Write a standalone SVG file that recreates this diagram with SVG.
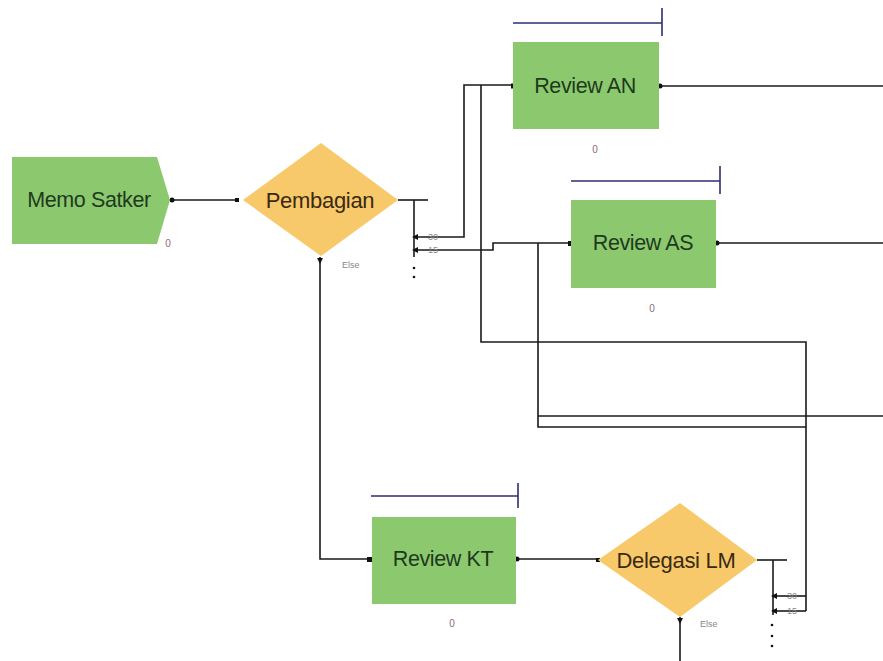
<svg xmlns="http://www.w3.org/2000/svg" width="883" height="661" viewBox="0 0 883 661">
<style>
.box{fill:#8cc96e}
.dia{fill:#f7c96b}
.lbl{font-family:"Liberation Sans",Arial,sans-serif;font-size:21.5px;letter-spacing:-0.4px;fill:#1e3a1e;text-anchor:middle;dominant-baseline:central}
.dlbl{font-family:"Liberation Sans",Arial,sans-serif;font-size:22px;letter-spacing:-0.3px;fill:#3a2a12;text-anchor:middle;dominant-baseline:central}
.zero{font-family:"Liberation Sans",Arial,sans-serif;font-size:10px;fill:#8a6a80;text-anchor:middle}
.small{font-family:"Liberation Sans",Arial,sans-serif;font-size:9px;fill:#888;}
.bar{stroke:#2c2f6e;stroke-width:1.6;fill:none}
.c{stroke:#1a1a1a;stroke-width:1.6;fill:none}
.dot{fill:#111}
</style>
<rect width="883" height="661" fill="#fff"/>

<g id="connectors">
<path class="c" d="M172,200 H237"/>
<path class="c" d="M398,200 H428"/>
<path class="c" d="M414,200 V257"/>
<path class="c" d="M416,237 H464 V85 H513"/>
<path class="c" d="M481,85 V342 H806 V611"/>
<path class="c" d="M416,250 H493 V243 H571"/>
<path class="c" d="M538,243 V427 H806"/>
<path class="c" d="M538,416 H883"/>
<path class="c" d="M659,86 H883"/>
<path class="c" d="M716,243 H883"/>
<path class="c" d="M320,257 V559 H370"/>
<path class="c" d="M516,559 H598"/>
<path class="c" d="M757,560 H787"/>
<path class="c" d="M773,560 V615"/>
<path class="c" d="M775,596 H806"/>
<path class="c" d="M775,611 H806"/>
<path class="c" d="M680,617 V661"/>
<path d="M412,237 L418,234 L418,240 z" class="dot"/>
<path d="M412,250 L418,247 L418,253 z" class="dot"/>
<path d="M771,596 L777,593 L777,599 z" class="dot"/>
<path d="M771,611 L777,608 L777,614 z" class="dot"/>
<circle class="dot" cx="172" cy="200" r="2.5"/>
<rect class="dot" x="235" y="198" width="4" height="4"/>
<rect class="dot" x="511" y="83.5" width="4" height="5"/>
<circle class="dot" cx="660" cy="86" r="2.5"/>
<rect class="dot" x="568" y="241" width="4" height="5"/>
<circle class="dot" cx="717" cy="243" r="2.5"/>
<rect class="dot" x="367" y="557" width="5" height="5"/>
<circle class="dot" cx="517" cy="559" r="2.5"/>
<rect class="dot" x="596" y="558" width="4" height="4"/>
<path class="dot" d="M317,258 L323,258 L320,264 z"/>
<path class="dot" d="M677,618 L683,618 L680,624 z"/>
<circle class="dot" cx="414" cy="268" r="1.3"/>
<circle class="dot" cx="414" cy="277" r="1.3"/>
<circle class="dot" cx="772" cy="625" r="1.3"/>
<circle class="dot" cx="772" cy="636" r="1.3"/>
<circle class="dot" cx="772" cy="646" r="1.3"/>
<text class="small" x="428" y="240">30</text>
<text class="small" x="428" y="253">15</text>
<text class="small" x="787" y="599">30</text>
<text class="small" x="787" y="614">15</text>
<text class="small" x="342" y="268">Else</text>
<text class="small" x="700" y="627">Else</text>
</g>

<g id="memo-satker">
<path class="box" d="M12,157 H157 L170,200 L157,244 H12 z"/>
<text class="lbl" x="89" y="200">Memo Satker</text>
<text class="zero" x="168" y="247">0</text>
</g>

<g id="pembagian">
<path class="dia" d="M243,200 L321,143 L398,200 L321,256 z"/>
<text class="dlbl" x="320" y="200">Pembagian</text>
</g>

<g id="review-an">
<path class="bar" d="M513,23 H662 M662,8 V36"/>
<rect class="box" x="513" y="42" width="146" height="87"/>
<text class="lbl" x="585" y="86">Review AN</text>
<text class="zero" x="595" y="153">0</text>
</g>

<g id="review-as">
<path class="bar" d="M571,181 H720 M720,166 V194"/>
<rect class="box" x="571" y="200" width="145" height="88"/>
<text class="lbl" x="643" y="243">Review AS</text>
<text class="zero" x="652" y="312">0</text>
</g>

<g id="review-kt">
<path class="bar" d="M371,496 H518 M518,483 V508"/>
<rect class="box" x="372" y="517" width="144" height="87"/>
<text class="lbl" x="443" y="559">Review KT</text>
<text class="zero" x="452" y="627">0</text>
</g>

<g id="delegasi-lm">
<path class="dia" d="M598,560 L680,503 L757,560 L680,617 z"/>
<text class="dlbl" x="676" y="560">Delegasi LM</text>
</g>
</svg>
